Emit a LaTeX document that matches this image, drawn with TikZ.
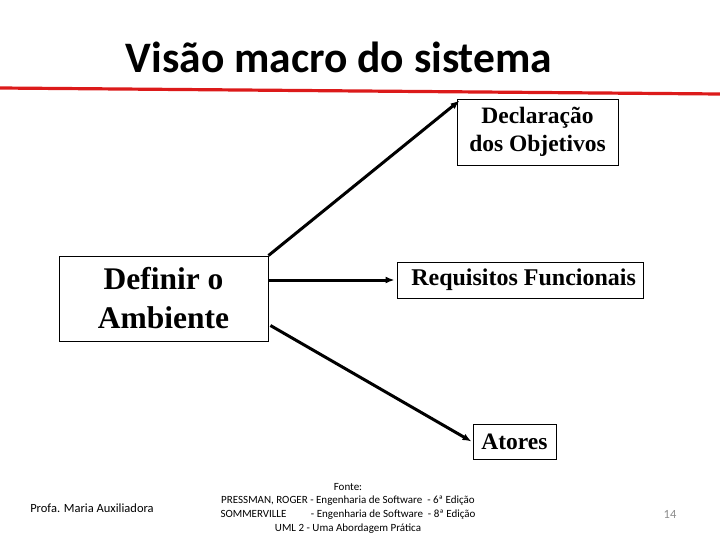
\documentclass[tikz,border=0pt]{standalone}
\usepackage{fontspec}
\setmainfont{Liberation Serif}
\newfontfamily\slidefont{Carlito}
\usepackage{tikz}
\usetikzlibrary{arrows.meta,positioning}
\definecolor{rule}{HTML}{DC1A1A}
\definecolor{pagenum}{HTML}{8C8C8C}
\tikzset{
  box/.style={draw, rectangle, line width=0.9pt, align=center, inner sep=0pt, font=\bfseries\fontsize{23.5}{28}\selectfont},
  arr/.style={-{Latex[length=9pt,width=7pt]}, line width=3pt},
  foot/.style={font=\slidefont\fontsize{11}{13.7}\selectfont, align=center, inner sep=0pt}
}

\begin{document}
\begin{tikzpicture}[x=1pt,y=-1pt]
\useasboundingbox (0,0) rectangle (720,540);
% title and red rule
\node[font=\slidefont\bfseries\fontsize{43.5}{50}\selectfont, inner sep=0pt] (title) at (339,57) {Visão macro do sistema};
\draw[rule, line width=3.2pt] (0,88) -- (720,94);
% boxes
\node[box, minimum width=161pt, minimum height=66pt] (dec) at (537.5,132) {Declaração\\dos Objetivos};
\node[box, minimum width=209pt, minimum height=85pt, font=\bfseries\fontsize{31.5}{39}\selectfont] (def) at (163.5,298.5) {Definir o\\Ambiente};
\node[box, minimum width=246pt, minimum height=36pt, font=\bfseries\fontsize{24}{28}\selectfont] (req) at (520,280) {\makebox[246pt][r]{Requisitos Funcionais\hspace{7pt}}};
\node[box, minimum width=83pt, minimum height=35pt] (ato) at (514.5,441.5) {Atores};
% connectors
\draw[arr] (def.north east) -- ([xshift=3pt,yshift=-2pt]dec.north west);
\draw[arr] (def.east |- req.west) -- ([xshift=-2pt]req.west);
\draw[arr] ([xshift=2pt,yshift=-27pt]def.east) -- ([xshift=-1pt]ato.west);
% footer
\node[foot, font=\slidefont\fontsize{12.5}{15}\selectfont] (prof) at (92,508) {Profa. Maria Auxiliadora};
\node[foot] (src) at (348,508) {Fonte:\\PRESSMAN, ROGER - Engenharia de Software \ - 6ª Edição\\SOMMERVILLE \qquad - Engenharia de Software \ - 8ª Edição\\UML 2 - Uma Abordagem Prática};
\node[foot, text=pagenum, font=\slidefont\fontsize{12.5}{15}\selectfont] (num) at (670,514) {14};
\end{tikzpicture}
\end{document}
